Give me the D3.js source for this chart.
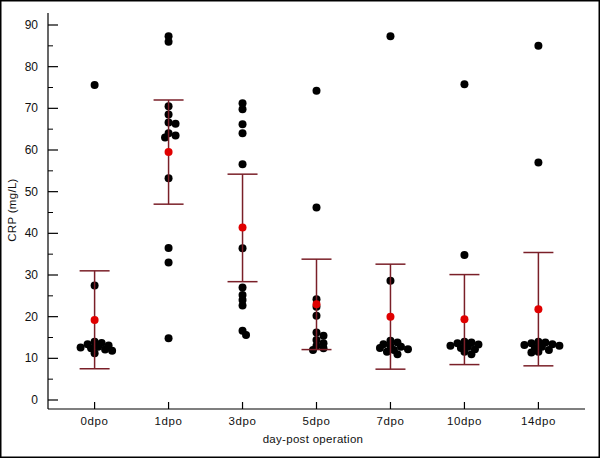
<!DOCTYPE html>
<html>
<head>
<meta charset="utf-8">
<script src="https://cdn.jsdelivr.net/npm/d3@7"></script>
<style>
  body { margin: 0; background: #fff; }
  text { font-family: "Liberation Sans", Arial, sans-serif; fill: #111; }
</style>
</head>
<body>
<div id="chart"></div>
<script>
const categories = ["0dpo", "1dpo", "3dpo", "5dpo", "7dpo", "10dpo", "14dpo"];
const d0dpo  = [75.6, 27.5, 14.0, 13.7, 13.4, 13.1, 12.8, 12.6, 12.4, 12.1, 11.8, 11.2];
const d1dpo  = [87.3, 86.0, 70.5, 68.5, 66.6, 66.3, 64.0, 63.5, 63.0, 53.2, 36.5, 33.0, 14.8];
const d3dpo  = [71.2, 69.8, 66.2, 64.0, 56.6, 36.4, 27.0, 25.2, 24.0, 22.7, 16.6, 15.6];
const d5dpo  = [74.2, 46.2, 24.2, 22.4, 20.2, 16.2, 15.4, 14.4, 13.6, 13.0, 12.4, 12.0];
const d7dpo  = [87.3, 28.6, 14.2, 13.8, 13.4, 13.0, 12.8, 12.5, 12.2, 12.0, 11.6, 11.0];
const d10dpo = [75.8, 34.8, 14.0, 13.8, 13.6, 13.3, 13.0, 12.8, 12.5, 12.2, 11.6, 11.0];
const d14dpo = [85.0, 57.0, 14.0, 13.8, 13.6, 13.4, 13.2, 13.0, 12.8, 12.5, 12.0, 11.6, 11.4];
const groups = [d0dpo, d1dpo, d3dpo, d5dpo, d7dpo, d10dpo, d14dpo];
const means = [19.2, 59.5, 41.4, 23.0, 20.0, 19.4, 21.8];
const lower = [7.5, 47.0, 28.4, 12.1, 7.4, 8.5, 8.2];
const upper = [31.0, 72.0, 54.2, 33.8, 32.6, 30.1, 35.4];
const yTicks = [0, 10, 20, 30, 40, 50, 60, 70, 80, 90];

const width = 600, height = 458;
const left = 48, right = 585, axisY = 409, axisTop = 13;
const r = 4;
const barColor = "#7a1f28";

const svg = d3.select("#chart").append("svg")
    .attr("width", width)
    .attr("height", height);

// frame
svg.append("rect")
    .attr("x", 0.75).attr("y", 0.75)
    .attr("width", width - 1.5).attr("height", height - 1.5)
    .attr("fill", "#fff").attr("stroke", "#000").attr("stroke-width", 1.5);

const x = d3.scalePoint().domain(categories).range([left, right]).padding(0.63);
const y = d3.scaleLinear().domain([0, 90]).range([400, 25]);

// y axis: line + major/minor ticks pointing inward
svg.append("line")
    .attr("x1", left).attr("x2", left).attr("y1", axisTop).attr("y2", axisY)
    .attr("stroke", "#000").attr("stroke-width", 1.2);
const minor = d3.range(5, 90, 10);
svg.selectAll(".ytick").data(yTicks).join("line")
    .attr("x1", left).attr("x2", left + 10)
    .attr("y1", d => y(d)).attr("y2", d => y(d))
    .attr("stroke", "#000").attr("stroke-width", 1.2);
svg.selectAll(".yminor").data(minor).join("line")
    .attr("x1", left).attr("x2", left + 5)
    .attr("y1", d => y(d)).attr("y2", d => y(d))
    .attr("stroke", "#000").attr("stroke-width", 1);
svg.selectAll(".ylab").data(yTicks).join("text")
    .attr("x", left - 10).attr("y", d => y(d) + 4)
    .attr("text-anchor", "end")
    .style("font-size", "12px")
    .text(d => d);

// x axis
svg.append("line")
    .attr("x1", left).attr("x2", right).attr("y1", axisY).attr("y2", axisY)
    .attr("stroke", "#000").attr("stroke-width", 1.2);
svg.selectAll(".xtick").data(categories).join("line")
    .attr("x1", d => x(d)).attr("x2", d => x(d))
    .attr("y1", axisY).attr("y2", axisY - 7)
    .attr("stroke", "#000").attr("stroke-width", 1.2);
svg.selectAll(".xlab").data(categories).join("text")
    .attr("x", d => x(d)).attr("y", 425)
    .attr("text-anchor", "middle")
    .style("font-size", "11.5px")
    .style("letter-spacing", "0.6px")
    .text(d => d);

svg.append("text")
    .attr("x", 313).attr("y", 443)
    .attr("text-anchor", "middle")
    .style("font-size", "11.5px")
    .style("letter-spacing", "0.3px")
    .text("day-post operation");

svg.append("text")
    .attr("transform", "translate(16,210) rotate(-90)")
    .attr("text-anchor", "middle")
    .style("font-size", "11.5px")
    .style("letter-spacing", "0.3px")
    .text("CRP (mg/L)");

// simple beeswarm so overlapping dots spread sideways (dots may touch a bit)
function swarm(values, cx) {
    const placed = [];
    const minD = 5;
    const sorted = values.slice().sort((a, b) => b - a);
    sorted.forEach(v => {
        const py = y(v);
        let off = 0;
        for (let k = 0; k < 40; k++) {
            const cand = k === 0 ? 0 : (k % 2 ? 1 : -1) * Math.ceil(k / 2) * 3.5;
            const ok = placed.every(p => Math.hypot(p.x - (cx + cand), p.y - py) >= minD);
            if (ok) { off = cand; break; }
        }
        placed.push({x: cx + off, y: py, v: v});
    });
    return placed;
}

categories.forEach((c, i) => {
    const pts = swarm(groups[i], x(c));
    svg.append("g").selectAll("circle").data(pts).join("circle")
        .attr("cx", d => d.x).attr("cy", d => d.y).attr("r", r)
        .attr("fill", "#000");

    const g = svg.append("g").attr("stroke", barColor).attr("stroke-width", 1.5);
    g.append("line")
        .attr("x1", x(c)).attr("x2", x(c))
        .attr("y1", y(lower[i])).attr("y2", y(upper[i]));
    [lower[i], upper[i]].forEach(v => {
        g.append("line")
            .attr("x1", x(c) - 15).attr("x2", x(c) + 15)
            .attr("y1", y(v)).attr("y2", y(v));
    });

    svg.append("circle")
        .attr("cx", x(c)).attr("cy", y(means[i])).attr("r", r)
        .attr("fill", "#e00000");
});
</script>
</body>
</html>
